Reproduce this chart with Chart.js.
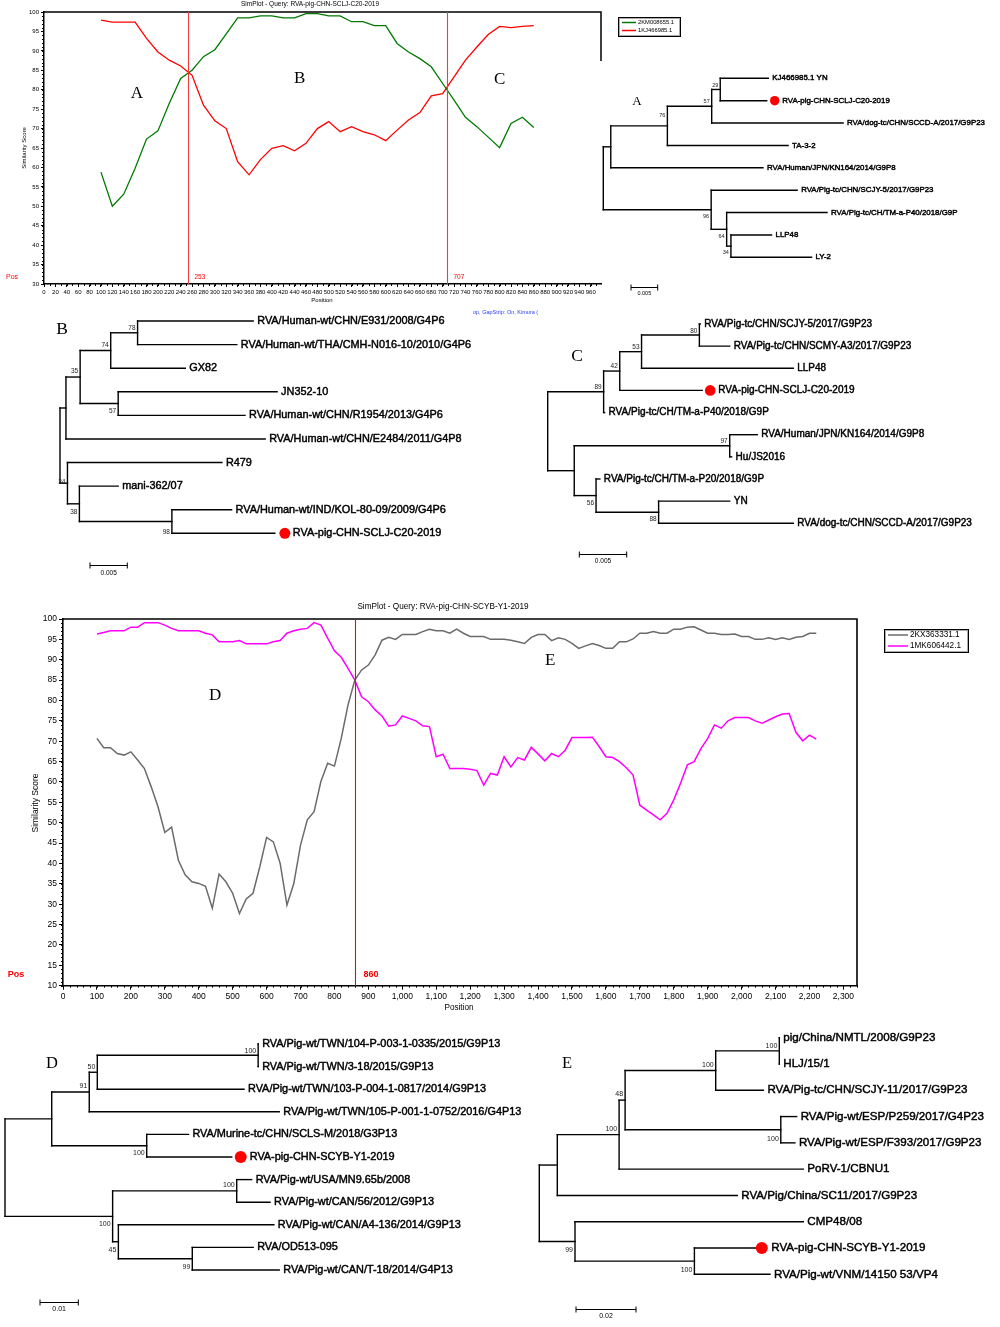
<!DOCTYPE html>
<html>
<head>
<meta charset="utf-8">
<title>SimPlot and phylogenetic trees</title>
<script src="https://cdn.jsdelivr.net/npm/chart.js@4.4.1/dist/chart.umd.min.js"></script>
<style>
  body { margin: 0; background: #fff; }
  #page { position: relative; width: 1000px; height: 1327px; overflow: hidden; background: #fff; }
  canvas { position: absolute; }
</style>
</head>
<body>
<div id="page">
  <canvas id="sim1"></canvas>
  <canvas id="sim2"></canvas>
  <canvas id="treeA"></canvas>
  <canvas id="treeB"></canvas>
  <canvas id="treeC"></canvas>
  <canvas id="treeD"></canvas>
  <canvas id="treeE"></canvas>
</div>
<script>
// ---------- SimPlot 1: query RVA-pig-CHN-SCLJ-C20-2019 ----------
const sim1Title = 'SimPlot - Query: RVA-pig-CHN-SCLJ-C20-2019';
const sim1Pos = [100,120,140,160,180,200,220,240,260,280,300,320,340,360,380,400,420,440,460,480,
                 500,520,540,560,580,600,620,640,660,680,700,720,740,760,780,800,820,840,860];
const sim1Green = [58.8,50,53.1,59.8,67.3,69.4,76.5,82.9,85,88.5,90.3,94.4,98.5,98.5,99,99,98.5,98.5,99.6,99.6,
                   99,99,97.5,97.5,96.5,96.5,91.9,89.7,88,85.9,81.6,77.3,72.9,70.5,67.8,65.1,71.3,72.9,70.3];
const sim1Red = [97.9,97.4,97.4,97.4,93.2,89.7,87.6,86.1,83.7,76,72,70,61.5,58.1,62,64.9,65.6,64.3,66.2,70,
                 71.8,69.2,70.5,69.2,68.4,66.9,69.6,72.2,74.1,78.4,79,83.3,87.6,91,94.2,96.3,96,96.3,96.5];
const sim1Names = ['2KM008655.1', '1KJ466985.1'];
const sim1Breaks = [253, 707];
const sim1Regions = ['A', 'B', 'C'];

// ---------- SimPlot 2: query RVA-pig-CHN-SCYB-Y1-2019 ----------
const sim2Title = 'SimPlot - Query: RVA-pig-CHN-SCYB-Y1-2019';
const sim2Pos = [100,120,140,160,180,200,220,240,260,280,
                 300,320,340,360,380,400,420,440,460,480,
                 500,520,540,560,580,600,620,640,660,680,
                 700,720,740,760,780,800,820,840,860,880,
                 900,920,940,960,980,1000,1020,1040,1060,1080,
                 1100,1120,1140,1160,1180,1200,1220,1240,1260,1280,
                 1300,1320,1340,1360,1380,1400,1420,1440,1460,1480,
                 1500,1520,1540,1560,1580,1600,1620,1640,1660,1680,
                 1700,1720,1740,1760,1780,1800,1820,1840,1860,1880,
                 1900,1920,1940,1960,1980,2000,2020,2040,2060,2080,
                 2100,2120,2140,2160,2180,2200,2220];
const sim2Gray = [70.7,68.4,68.4,67,66.6,67.4,65.4,63.3,58.8,53.9,
                  47.6,48.9,40.8,37.2,35.5,35.1,34.4,29,37.4,35.5,
                  32.7,27.7,31.3,32.7,39.2,46.4,45.3,40,29.8,35,
                  44.5,50.7,52.7,60.1,64.6,63.9,70.7,78.9,85,87.5,
                  88.7,91.2,94.8,95.5,95,96.2,96.2,96.2,96.9,97.5,
                  97.1,97.1,96.5,97.5,96.5,95.7,95.7,95.7,95,95,
                  95,94.8,94.4,94,95.5,96.2,96.2,94.7,95.4,95,
                  94,92.8,93.4,94,93.5,92.8,92.8,94.4,94.4,95.1,
                  96.5,96.5,96.9,96.5,96.5,97.5,97.5,98,98.1,97.3,
                  96.5,96.5,96.2,96.2,96.3,95.7,95.7,95,95,95.4,
                  95,95.4,95,95.5,95.7,96.5,96.5];
const sim2Magenta = [96.3,96.7,97.1,97.1,97.1,98,98,99.1,99.1,99.1,
                     98.5,97.7,97.1,97.1,97.1,97.1,96.5,96.1,94.4,94.4,
                     94.4,94.7,93.9,93.9,93.9,93.9,94.4,94.7,96.5,97.1,
                     97.5,97.7,99.1,98.5,95.3,92.2,90.6,87.9,85,80.9,
                     79.7,77.7,76.2,73.7,74,76.2,75.6,75,73.8,73.6,
                     66.2,66.8,63.3,63.3,63.3,63.1,62.8,59.2,62.1,61.7,
                     66.2,63.7,66,65.4,68.5,66.9,65.2,67,66.2,67.8,
                     70.9,70.9,70.9,71,68.7,66.2,66,65,63.5,61.7,
                     54.3,53.1,51.9,50.7,52.3,55.6,59.7,64.2,65,68.2,
                     70.7,74,73.2,75,75.8,75.8,75.8,75,74.4,75.2,
                     76,76.7,76.8,72.2,70.1,71.5,70.5];
const sim2Names = ['2KX363331.1', '1MK606442.1'];
const sim2Breaks = [860];
const sim2Regions = ['D', 'E'];

// ---------- trees: leaves (top to bottom), distance from root, internal nodes [childA, childB, distance, bootstrap] ----------
const treeALeaves = ['KJ466985.1 YN','RVA-pig-CHN-SCLJ-C20-2019','RVA/dog-tc/CHN/SCCD-A/2017/G9P23','TA-3-2',
  'RVA/Human/JPN/KN164/2014/G9P8','RVA/Pig-tc/CHN/SCJY-5/2017/G9P23','RVA/Pig-tc/CH/TM-a-P40/2018/G9P','LLP48','LY-2'];
const treeALen = [0.0309,0.0306,0.0449,0.0346,0.0299,0.0363,0.0419,0.0315,0.0390];
const treeANodes = [[0,1,0.0219,29],[9,2,0.0203,57],[10,3,0.0120,76],[11,4,0.0014,null],
  [7,8,0.0239,34],[6,13,0.0231,64],[5,14,0.0202,96],[12,15,0,null]];
const treeAQuery = 1, treeABar = 0.005;

const treeBLeaves = ['RVA/Human-wt/CHN/E931/2008/G4P6','RVA/Human-wt/THA/CMH-N016-10/2010/G4P6','GX82','JN352-10',
  'RVA/Human-wt/CHN/R1954/2013/G4P6','RVA/Human-wt/CHN/E2484/2011/G4P8','R479','mani-362/07',
  'RVA/Human-wt/IND/KOL-80-09/2009/G4P6','RVA-pig-CHN-SCLJ-C20-2019'];
const treeBLen = [0.0259,0.0237,0.0168,0.0291,0.0248,0.0275,0.0217,0.0078,0.0230,0.0288];
const treeBNodes = [[0,1,0.0104,78],[10,2,0.0068,74],[3,4,0.0078,57],[11,12,0.0027,35],[13,5,0.0008,null],
  [8,9,0.0150,98],[7,15,0.0026,38],[6,16,0.0010,34],[14,17,0,null]];
const treeBQuery = 9, treeBBar = 0.005;

const treeCLeaves = ['RVA/Pig-tc/CHN/SCJY-5/2017/G9P23','RVA/Pig-tc/CHN/SCMY-A3/2017/G9P23','LLP48','RVA-pig-CHN-SCLJ-C20-2019',
  'RVA/Pig-tc/CH/TM-a-P40/2018/G9P','RVA/Human/JPN/KN164/2014/G9P8','Hu/JS2016','RVA/Pig-tc/CH/TM-a-P20/2018/G9P',
  'YN','RVA/dog-tc/CHN/SCCD-A/2017/G9P23'];
const treeCLen = [0.0161,0.0192,0.0259,0.0163,0.0060,0.0221,0.0194,0.0055,0.0192,0.0259];
const treeCNodes = [[0,1,0.0160,80],[10,2,0.0099,53],[11,3,0.0076,42],[12,4,0.0059,89],[5,6,0.0192,97],
  [8,9,0.0117,88],[7,15,0.0051,56],[14,16,0.0028,null],[13,17,0,null]];
const treeCQuery = 3, treeCBar = 0.005;

const treeDLeaves = ['RVA/Pig-wt/TWN/104-P-003-1-0335/2015/G9P13','RVA/Pig-wt/TWN/3-18/2015/G9P13',
  'RVA/Pig-wt/TWN/103-P-004-1-0817/2014/G9P13','RVA/Pig-wt/TWN/105-P-001-1-0752/2016/G4P13',
  'RVA/Murine-tc/CHN/SCLS-M/2018/G3P13','RVA-pig-CHN-SCYB-Y1-2019','RVA/Pig-wt/USA/MN9.65b/2008',
  'RVA/Pig-wt/CAN/56/2012/G9P13','RVA/Pig-wt/CAN/A4-136/2014/G9P13','RVA/OD513-095','RVA/Pig-wt/CAN/T-18/2014/G4P13'];
const treeDLen = [0.0661,0.0661,0.0624,0.0716,0.0479,0.0592,0.0644,0.0692,0.0702,0.0648,0.0716];
const treeDNodes = [[0,1,0.0661,100],[11,2,0.0241,50],[12,3,0.0220,91],[4,5,0.0370,100],[13,14,0.0122,null],
  [6,7,0.0605,100],[9,10,0.0489,99],[8,17,0.0296,45],[16,18,0.0281,100],[15,19,0,null]];
const treeDQuery = 5, treeDBar = 0.01;

const treeELeaves = ['pig/China/NMTL/2008/G9P23','HLJ/15/1','RVA/Pig-tc/CHN/SCJY-11/2017/G9P23',
  'RVA/Pig-wt/ESP/P259/2017/G4P23','RVA/Pig-wt/ESP/F393/2017/G9P23','PoRV-1/CBNU1','RVA/Pig/China/SC11/2017/G9P23',
  'CMP48/08','RVA-pig-CHN-SCYB-Y1-2019','RVA/Pig-wt/VNM/14150 53/VP4'];
const treeELen = [0.0800,0.0800,0.0747,0.0858,0.0852,0.0880,0.0660,0.0880,0.0725,0.0769];
const treeENodes = [[0,1,0.0800,100],[10,2,0.0588,100],[3,4,0.0805,100],[11,12,0.0286,48],[13,5,0.0266,100],
  [14,6,0.0060,null],[8,9,0.0517,100],[7,16,0.0119,99],[15,17,0,null]];
const treeEQuery = 8, treeEBar = 0.02;

// ---------- layout (page pixels) ----------
const FONT = 'Arial, "Liberation Sans", sans-serif';
const SERIF = '"Times New Roman", "Liberation Serif", serif';

const sim1Layout = {
  canvas: {left: 0, top: 0, w: 700, h: 320},
  area: {left: 44, top: 12, right: 601, bottom: 284},
  xMax: 978, xStep: 20, xMinor: 10, yMin: 30, yMax: 100, yStep: 5, yMinor: 1,
  tickSize: 6, tickLen: 3, tickPad: 2, minorLen: 2, axisW: 1.5, lineW: 1.3,
  colors: ['#007a00', '#ff0000'],
  title: {x: 310, y: 4, size: 6.5},
  yTitle: {x: 24, y: 148, size: 6},
  xTitle: {x: 322, y: 300, size: 6},
  pos: {x: 12, y: 277, font: '7px ' + FONT},
  breakColor: '#f03c3c', breakFont: '6.5px ' + FONT, breakDx: 6, breakY: 277,
  rightFrameEnd: 61,
  regionX: [163, 449, 800], regionY: [79.1, 82.9, 82.6], regionSize: 17,
  legend: {x: 618, y: 17, w: 62, h: 19, gap: 8, line: 14, size: 5.8},
  extra: [{t: 'op, GapStrip: On, Kimura (', x: 473, y: 312, font: '5.5px ' + FONT, c: '#2a3cf0'}]
};
const sim2Layout = {
  canvas: {left: 0, top: 595, w: 1000, h: 425},
  area: {left: 63, top: 619, right: 857, bottom: 985.7},
  xMax: 2340, xStep: 100, xMinor: 20, yMin: 10, yMax: 100, yStep: 5, yMinor: 1,
  tickSize: 8.5, tickLen: 4, tickPad: 2, minorLen: 2, axisW: 1.6, lineW: 1.5,
  colors: ['#6b6b6b', '#ff00ff'],
  title: {x: 443, y: 607, size: 8.2},
  yTitle: {x: 36, y: 803, size: 8.5},
  xTitle: {x: 459, y: 1008, size: 8.2},
  pos: {x: 16, y: 975, font: 'bold 9px ' + FONT},
  breakColor: '#e01010', breakFont: 'bold 9px ' + FONT, breakDx: 8, breakY: 975,
  rightFrameEnd: null,
  regionX: [448, 1436], regionY: [81.3, 89.9], regionSize: 17,
  legend: {x: 884, y: 629, w: 84, h: 23, gap: 11, line: 20, size: 8.2},
  extra: []
};

const treeLayouts = {
  A: {box: [590, 60, 410, 240], rootX: 603.3, barPx: 26.7, row0: 78.3, rowGap: 22.375,
      font: '7.9px ' + FONT, bsFont: '5.5px ' + FONT, dotDx: 8, dotR: 4.7, qDx: 15.5, leafDx: 4,
      bar: [631, 287, 6, '5.5px ' + FONT], letter: ['A', 637, 102, 13],
      bsDy: [-4.5, -4.7, -10, null, 6.5, 7, 6.5, null]},
  B: {box: [30, 310, 450, 270], rootX: 60, barPx: 37.3, row0: 321, rowGap: 23.59,
      font: '10.9px ' + FONT, bsFont: '6.5px ' + FONT, dotDx: 10, dotR: 5.5, qDx: 18, leafDx: 4,
      bar: [90, 565, 8, '6.5px ' + FONT], letter: ['B', 62, 329, 17.5],
      bsDy: [-4.4, -5, 8, -5.6, null, 11, 8.5, -1, null]},
  C: {box: [530, 310, 470, 260], rootX: 547.7, barPx: 47.4, row0: 324, rowGap: 22.14,
      font: '10px ' + FONT, bsFont: '6.5px ' + FONT, dotDx: 8, dotR: 5.3, qDx: 16, leafDx: 4,
      bar: [579.3, 554, 7, '6.5px ' + FONT], letter: ['C', 577, 356, 17.5],
      bsDy: [-4, -4.6, -4.6, -4.2, -4.5, 7.2, 7.3, null, null]},
  D: {box: [0, 1025, 530, 302], rootX: 5, barPx: 38.3, row0: 1044, rowGap: 22.6,
      font: '10.9px ' + FONT, bsFont: '7px ' + FONT, dotDx: 9, dotR: 6, qDx: 18, leafDx: 4,
      bar: [40, 1301.7, 7, '7px ' + FONT], letter: ['D', 52, 1064, 16.5],
      bsDy: [-4.3, -5.5, -5.7, 7.2, null, -5.7, 8.6, 8.2, 7.5, null]},
  E: {box: [530, 1025, 470, 302], rootX: 539.3, barPx: 60, row0: 1037.7, rowGap: 26.29,
      font: '11.6px ' + FONT, bsFont: '7px ' + FONT, dotDx: 5, dotR: 6, qDx: 14.5, leafDx: 4,
      bar: [576, 1309.3, 7, '7px ' + FONT], letter: ['E', 567, 1064, 16.5],
      bsDy: [-5.2, -5.8, 9.5, -5.9, -5.6, null, 9, 8.6, null]}
};

Chart.defaults.font.family = FONT;
Chart.defaults.color = '#000';

function place(id, left, top, w, h) {
  const cv = document.getElementById(id);
  cv.width = w; cv.height = h;
  cv.style.left = left + 'px'; cv.style.top = top + 'px';
  cv.style.width = w + 'px'; cv.style.height = h + 'px';
  return cv;
}

// heavy = thin outline on top of the fill, so the text looks darker without getting wider
function text(ctx, s, x, y, font, color, align, rot, heavy) {
  ctx.save();
  ctx.font = font; ctx.fillStyle = color || '#000';
  ctx.textAlign = align || 'left'; ctx.textBaseline = 'middle';
  ctx.translate(x, y);
  if (rot) ctx.rotate(rot);
  ctx.fillText(s, 0, 0);
  if (heavy) {
    ctx.strokeStyle = color || '#000'; ctx.lineWidth = heavy; ctx.lineJoin = 'round';
    ctx.strokeText(s, 0, 0);
  }
  ctx.restore();
}

function makeSim(id, L, xs, series, names, breaks, regions, title) {
  const c = L.canvas;
  const cv = place(id, c.left, c.top, c.w, c.h);
  const ox = c.left, oy = c.top;

  const decor = {
    id: 'simDecor',
    afterDraw(chart) {
      const {ctx, chartArea: a, scales: {x, y}} = chart;
      ctx.save();
      // minor ticks
      ctx.strokeStyle = '#000'; ctx.lineWidth = 1;
      ctx.beginPath();
      for (let k = 0; L.yMin + k * L.yMinor <= L.yMax; k++) {
        const py = Math.round(y.getPixelForValue(L.yMin + k * L.yMinor)) + 0.5;
        ctx.moveTo(a.left - L.minorLen, py); ctx.lineTo(a.left, py);
      }
      for (let k = 0; k * L.xMinor <= L.xMax; k++) {
        const px = Math.round(x.getPixelForValue(k * L.xMinor)) + 0.5;
        ctx.moveTo(px, a.bottom); ctx.lineTo(px, a.bottom + L.minorLen);
      }
      ctx.stroke();
      // frame (top + right)
      ctx.lineWidth = L.axisW;
      ctx.beginPath();
      ctx.moveTo(a.left, a.top); ctx.lineTo(a.right, a.top);
      ctx.lineTo(a.right, L.rightFrameEnd ? L.rightFrameEnd - oy : a.bottom);
      ctx.stroke();
      // recombination breakpoints
      breaks.forEach(b => {
        const px = Math.round(x.getPixelForValue(b)) + 0.5;
        ctx.strokeStyle = L.breakColor; ctx.lineWidth = 1.1;
        ctx.beginPath(); ctx.moveTo(px, a.top); ctx.lineTo(px, a.bottom); ctx.stroke();
        text(ctx, String(b), px + L.breakDx, L.breakY - oy, L.breakFont, '#ff0000', 'left');
      });
      // region letters
      regions.forEach((r, i) => text(ctx, r, x.getPixelForValue(L.regionX[i]), y.getPixelForValue(L.regionY[i]),
        L.regionSize + 'px ' + SERIF, '#000', 'center'));
      // titles
      text(ctx, title, L.title.x - ox, L.title.y - oy, L.title.size + 'px ' + FONT, '#000', 'center');
      text(ctx, 'Similarity Score', L.yTitle.x - ox, L.yTitle.y - oy, L.yTitle.size + 'px ' + FONT, '#000', 'center', -Math.PI / 2);
      text(ctx, 'Position', L.xTitle.x - ox, L.xTitle.y - oy, L.xTitle.size + 'px ' + FONT, '#000', 'center');
      text(ctx, 'Pos', L.pos.x - ox, L.pos.y - oy, L.pos.font, '#ff0000', 'center');
      L.extra.forEach(e => text(ctx, e.t, e.x - ox, e.y - oy, e.font, e.c, 'left'));
      // legend box
      const g = L.legend;
      ctx.strokeStyle = '#000'; ctx.lineWidth = 1;
      ctx.strokeRect(g.x - ox + 0.5, g.y - oy + 0.5, g.w, g.h);
      ctx.strokeStyle = '#aaa';
      ctx.strokeRect(g.x - ox + 1.5, g.y - oy + 1.5, g.w - 2, g.h - 2);
      chart.data.datasets.forEach((ds, i) => {
        const ly = g.y - oy + g.h / 2 + (i - 0.5) * g.gap;
        ctx.strokeStyle = ds.borderColor; ctx.lineWidth = 1.5;
        ctx.beginPath(); ctx.moveTo(g.x - ox + 4, ly); ctx.lineTo(g.x - ox + 4 + g.line, ly); ctx.stroke();
        text(ctx, ds.label, g.x - ox + 6 + g.line, ly, g.size + 'px ' + FONT, '#000', 'left');
      });
      ctx.restore();
    }
  };

  new Chart(cv, {
    type: 'line',
    data: {
      datasets: series.map((s, i) => ({
        label: names[i],
        data: xs.map((v, j) => ({x: v, y: s[j]})),
        borderColor: L.colors[i], backgroundColor: L.colors[i],
        borderWidth: L.lineW, pointRadius: 0, tension: 0, fill: false
      }))
    },
    options: {
      responsive: false, animation: false,
      layout: {padding: {left: 0, top: L.area.top - oy, right: ox + c.w - L.area.right, bottom: 0}},
      plugins: {legend: {display: false}, tooltip: {enabled: false}},
      scales: {
        x: {
          type: 'linear', min: 0, max: L.xMax,
          afterFit: s => { s.height = oy + c.h - L.area.bottom; },
          ticks: {stepSize: L.xStep, autoSkip: false, maxRotation: 0, includeBounds: false,
                  font: {size: L.tickSize}, color: '#000', padding: L.tickPad,
                  callback: v => v.toLocaleString('en-US')},
          grid: {drawOnChartArea: false, tickLength: L.tickLen, color: '#000'},
          border: {color: '#000', width: L.axisW}
        },
        y: {
          type: 'linear', min: L.yMin, max: L.yMax,
          afterFit: s => { s.width = L.area.left - ox; },
          ticks: {stepSize: L.yStep, autoSkip: false, includeBounds: false,
                  font: {size: L.tickSize}, color: '#000', padding: L.tickPad},
          grid: {drawOnChartArea: false, tickLength: L.tickLen, color: '#000'},
          border: {color: '#000', width: L.axisW}
        }
      }
    },
    plugins: [decor]
  });
}

function makeTree(id, leaves, lens, nodes, query, barVal, L) {
  const [bl, bt, bw, bh] = L.box;
  const cv = place(id, bl, bt, bw, bh);
  const n = leaves.length;
  const depth = lens.concat(nodes.map(nd => nd[2]));
  const parent = [];
  nodes.forEach((nd, k) => { parent[nd[0]] = n + k; parent[nd[1]] = n + k; });
  const row = [];
  const rowOf = i => row[i] !== undefined ? row[i] :
    (row[i] = i < n ? i : (rowOf(nodes[i - n][0]) + rowOf(nodes[i - n][1])) / 2);
  depth.forEach((d, i) => rowOf(i));

  const datasets = [];
  const seg = (x0, y0, x1, y1) => datasets.push({
    data: [{x: x0, y: y0}, {x: x1, y: y1}], showLine: true,
    borderColor: '#000', borderWidth: 1.4, pointRadius: 0, borderCapStyle: 'square'
  });
  depth.forEach((d, i) => { if (parent[i] !== undefined) seg(depth[parent[i]], row[i], d, row[i]); });
  nodes.forEach(nd => seg(nd[2], row[nd[0]], nd[2], row[nd[1]]));

  const upp = barVal / L.barPx;
  const xMin = -(L.rootX - bl) * upp;
  const yMin = -(L.row0 - bt) / L.rowGap;

  const labels = {
    id: 'treeText',
    afterDatasetsDraw(chart) {
      const {ctx, scales: {x, y}} = chart;
      ctx.save();
      leaves.forEach((name, i) => {
        const px = x.getPixelForValue(lens[i]), py = y.getPixelForValue(i);
        if (i === query) {
          ctx.fillStyle = '#ff0000';
          ctx.beginPath(); ctx.arc(px + L.dotDx, py, L.dotR, 0, Math.PI * 2); ctx.fill();
          text(ctx, name, px + L.qDx, py, L.font, '#000', 'left', 0, 0.45);
        } else {
          text(ctx, name, px + L.leafDx, py, L.font, '#000', 'left', 0, 0.45);
        }
      });
      nodes.forEach((nd, k) => {
        if (nd[3] === null) return;
        text(ctx, String(nd[3]), x.getPixelForValue(nd[2]) - 2, y.getPixelForValue(row[n + k]) + L.bsDy[k],
          L.bsFont, '#222', 'right');
      });
      // scale bar
      const [sx, sy, sdy, sfont] = L.bar;
      const v0 = (sx - L.rootX) * upp, r0 = (sy - L.row0) / L.rowGap;
      const x0 = x.getPixelForValue(v0), x1 = x.getPixelForValue(v0 + barVal), yy = Math.round(y.getPixelForValue(r0)) + 0.5;
      ctx.strokeStyle = '#000'; ctx.lineWidth = 1;
      ctx.beginPath();
      ctx.moveTo(x0, yy); ctx.lineTo(x1, yy);
      ctx.moveTo(x0, yy - 3); ctx.lineTo(x0, yy + 3);
      ctx.moveTo(x1, yy - 3); ctx.lineTo(x1, yy + 3);
      ctx.stroke();
      text(ctx, String(barVal), (x0 + x1) / 2, yy + sdy, sfont, '#000', 'center');
      const [lt, lx, ly, ls] = L.letter;
      text(ctx, lt, lx - bl, ly - bt, ls + 'px ' + SERIF, '#000', 'center');
      ctx.restore();
    }
  };

  new Chart(cv, {
    type: 'scatter',
    data: {datasets},
    options: {
      responsive: false, animation: false,
      layout: {padding: 0},
      plugins: {legend: {display: false}, tooltip: {enabled: false}},
      scales: {
        x: {type: 'linear', display: false, min: xMin, max: xMin + bw * upp},
        y: {type: 'linear', display: false, reverse: true, min: yMin, max: yMin + bh / L.rowGap}
      }
    },
    plugins: [labels]
  });
}

makeSim('sim1', sim1Layout, sim1Pos, [sim1Green, sim1Red], sim1Names, sim1Breaks, sim1Regions, sim1Title);
makeSim('sim2', sim2Layout, sim2Pos, [sim2Gray, sim2Magenta], sim2Names, sim2Breaks, sim2Regions, sim2Title);
makeTree('treeA', treeALeaves, treeALen, treeANodes, treeAQuery, treeABar, treeLayouts.A);
makeTree('treeB', treeBLeaves, treeBLen, treeBNodes, treeBQuery, treeBBar, treeLayouts.B);
makeTree('treeC', treeCLeaves, treeCLen, treeCNodes, treeCQuery, treeCBar, treeLayouts.C);
makeTree('treeD', treeDLeaves, treeDLen, treeDNodes, treeDQuery, treeDBar, treeLayouts.D);
makeTree('treeE', treeELeaves, treeELen, treeENodes, treeEQuery, treeEBar, treeLayouts.E);
</script>
</body>
</html>
